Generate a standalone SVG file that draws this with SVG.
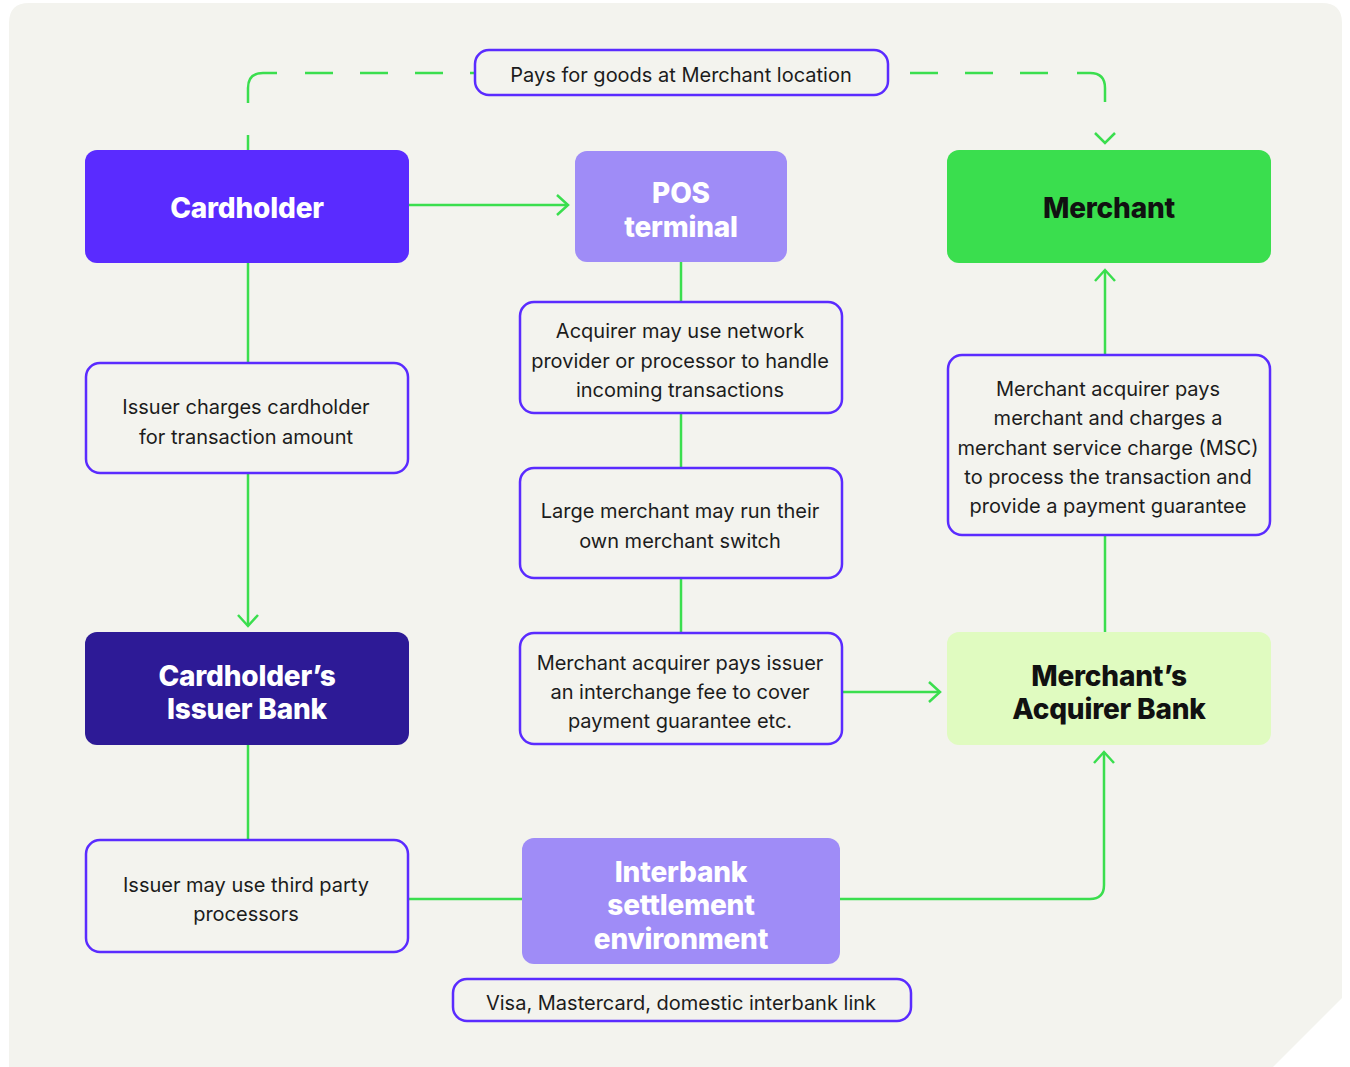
<svg xmlns="http://www.w3.org/2000/svg" width="1350" height="1067" viewBox="0 0 1350 1067">
<defs>
<style>
.bg{fill:#f3f3ee}
.lbl{fill:#f3f3ee;stroke:#5a2bff;stroke-width:2.5}
.t{font-family:Inter,"Noto Sans","Liberation Sans",sans-serif;font-size:20px;fill:#1c1c1c;text-anchor:middle}
.h{font-family:Inter,"Noto Sans","Liberation Sans",sans-serif;font-size:28px;font-weight:800;text-anchor:middle;letter-spacing:-0.2px}
.w{fill:#ffffff}
.d{fill:#111111}
.c{fill:none;stroke:#3ade4e;stroke-width:2.5}
</style>
<marker id="arr" markerUnits="userSpaceOnUse" markerWidth="30" markerHeight="30" viewBox="-15 -15 30 30" refX="0" refY="0" orient="auto">
<path d="M-11,-10 L0,0 L-11,10" fill="none" stroke="#3ade4e" stroke-width="2.5"/>
</marker>
</defs>
<rect width="1350" height="1067" fill="#ffffff"/>
<path class="bg" d="M29,3 H1322 Q1342,3 1342,23 V998 L1273,1067 H9 V23 Q9,3 29,3 Z"/>

<g id="connectors">
<path class="c" d="M248,150 V135"/>
<path class="c" d="M248,103 V88 Q248,73 263,73 H277"/>
<path class="c" d="M305,73 H1049" stroke-dasharray="28 27"/>
<path class="c" d="M1077,73 H1090 Q1105,73 1105,88 V102"/>
<path class="c" d="M1095,133 L1105,143 L1115,133"/>
<path class="c" d="M409,205 H568" marker-end="url(#arr)"/>
<path class="c" d="M248,263 V363"/>
<path class="c" d="M248,473 V626" marker-end="url(#arr)"/>
<path class="c" d="M248,745 V840"/>
<path class="c" d="M408,899 H522"/>
<path class="c" d="M840,899 H1090 Q1104,899 1104,885 V752" marker-end="url(#arr)"/>
<path class="c" d="M681,262 V302"/>
<path class="c" d="M681,413 V468"/>
<path class="c" d="M681,578 V633"/>
<path class="c" d="M842,692 H940" marker-end="url(#arr)"/>
<path class="c" d="M1105,632 V535"/>
<path class="c" d="M1105,355 V270" marker-end="url(#arr)"/>
</g>

<g id="pays-label">
<rect class="lbl" x="475" y="50" width="413" height="45" rx="14"/>
<text class="t" x="681" y="82">Pays for goods at Merchant location</text>
</g>

<g id="cardholder">
<rect x="85" y="150" width="324" height="113" rx="12" fill="#5a2bff"/>
<text class="h w" x="247" y="218">Cardholder</text>
</g>

<g id="pos-terminal">
<rect x="575" y="151" width="212" height="111" rx="12" fill="#9f8cf7"/>
<text class="h w" x="681" y="203">POS</text>
<text class="h w" x="681" y="237">terminal</text>
</g>

<g id="merchant">
<rect x="947" y="150" width="324" height="113" rx="12" fill="#3ade4e"/>
<text class="h d" x="1109" y="218">Merchant</text>
</g>

<g id="issuer-charges">
<rect class="lbl" x="86" y="363" width="322" height="110" rx="14"/>
<text class="t" x="246" y="414">Issuer charges cardholder</text>
<text class="t" x="246" y="444">for transaction amount</text>
</g>

<g id="issuer-bank">
<rect x="85" y="632" width="324" height="113" rx="12" fill="#2d1a96"/>
<text class="h w" x="247" y="686">Cardholder’s</text>
<text class="h w" x="247" y="719">Issuer Bank</text>
</g>

<g id="issuer-processors">
<rect class="lbl" x="86" y="840" width="322" height="112" rx="14"/>
<text class="t" x="246" y="892">Issuer may use third party</text>
<text class="t" x="246" y="921">processors</text>
</g>

<g id="interbank">
<rect x="522" y="838" width="318" height="126" rx="12" fill="#9f8cf7"/>
<text class="h w" x="681" y="882">Interbank</text>
<text class="h w" x="681" y="915">settlement</text>
<text class="h w" x="681" y="949">environment</text>
</g>

<g id="visa-label">
<rect class="lbl" x="453" y="979" width="458" height="42" rx="14"/>
<text class="t" x="681" y="1010">Visa, Mastercard, domestic interbank link</text>
</g>

<g id="acquirer-network">
<rect class="lbl" x="520" y="302" width="322" height="111" rx="14"/>
<text class="t" x="680" y="338">Acquirer may use network</text>
<text class="t" x="680" y="368">provider or processor to handle</text>
<text class="t" x="680" y="397">incoming transactions</text>
</g>

<g id="merchant-switch">
<rect class="lbl" x="520" y="468" width="322" height="110" rx="14"/>
<text class="t" x="680" y="518">Large merchant may run their</text>
<text class="t" x="680" y="548">own merchant switch</text>
</g>

<g id="interchange-fee">
<rect class="lbl" x="520" y="633" width="322" height="111" rx="14"/>
<text class="t" x="680" y="670">Merchant acquirer pays issuer</text>
<text class="t" x="680" y="699">an interchange fee to cover</text>
<text class="t" x="680" y="728">payment guarantee etc.</text>
</g>

<g id="acquirer-bank">
<rect x="947" y="632" width="324" height="113" rx="12" fill="#e0fbc0"/>
<text class="h d" x="1109" y="686">Merchant’s</text>
<text class="h d" x="1109" y="719">Acquirer Bank</text>
</g>

<g id="msc-label">
<rect class="lbl" x="948" y="355" width="322" height="180" rx="14"/>
<text class="t" x="1108" y="396">Merchant acquirer pays</text>
<text class="t" x="1108" y="425">merchant and charges a</text>
<text class="t" x="1108" y="455">merchant service charge (MSC)</text>
<text class="t" x="1108" y="484">to process the transaction and</text>
<text class="t" x="1108" y="513">provide a payment guarantee</text>
</g>
</svg>
